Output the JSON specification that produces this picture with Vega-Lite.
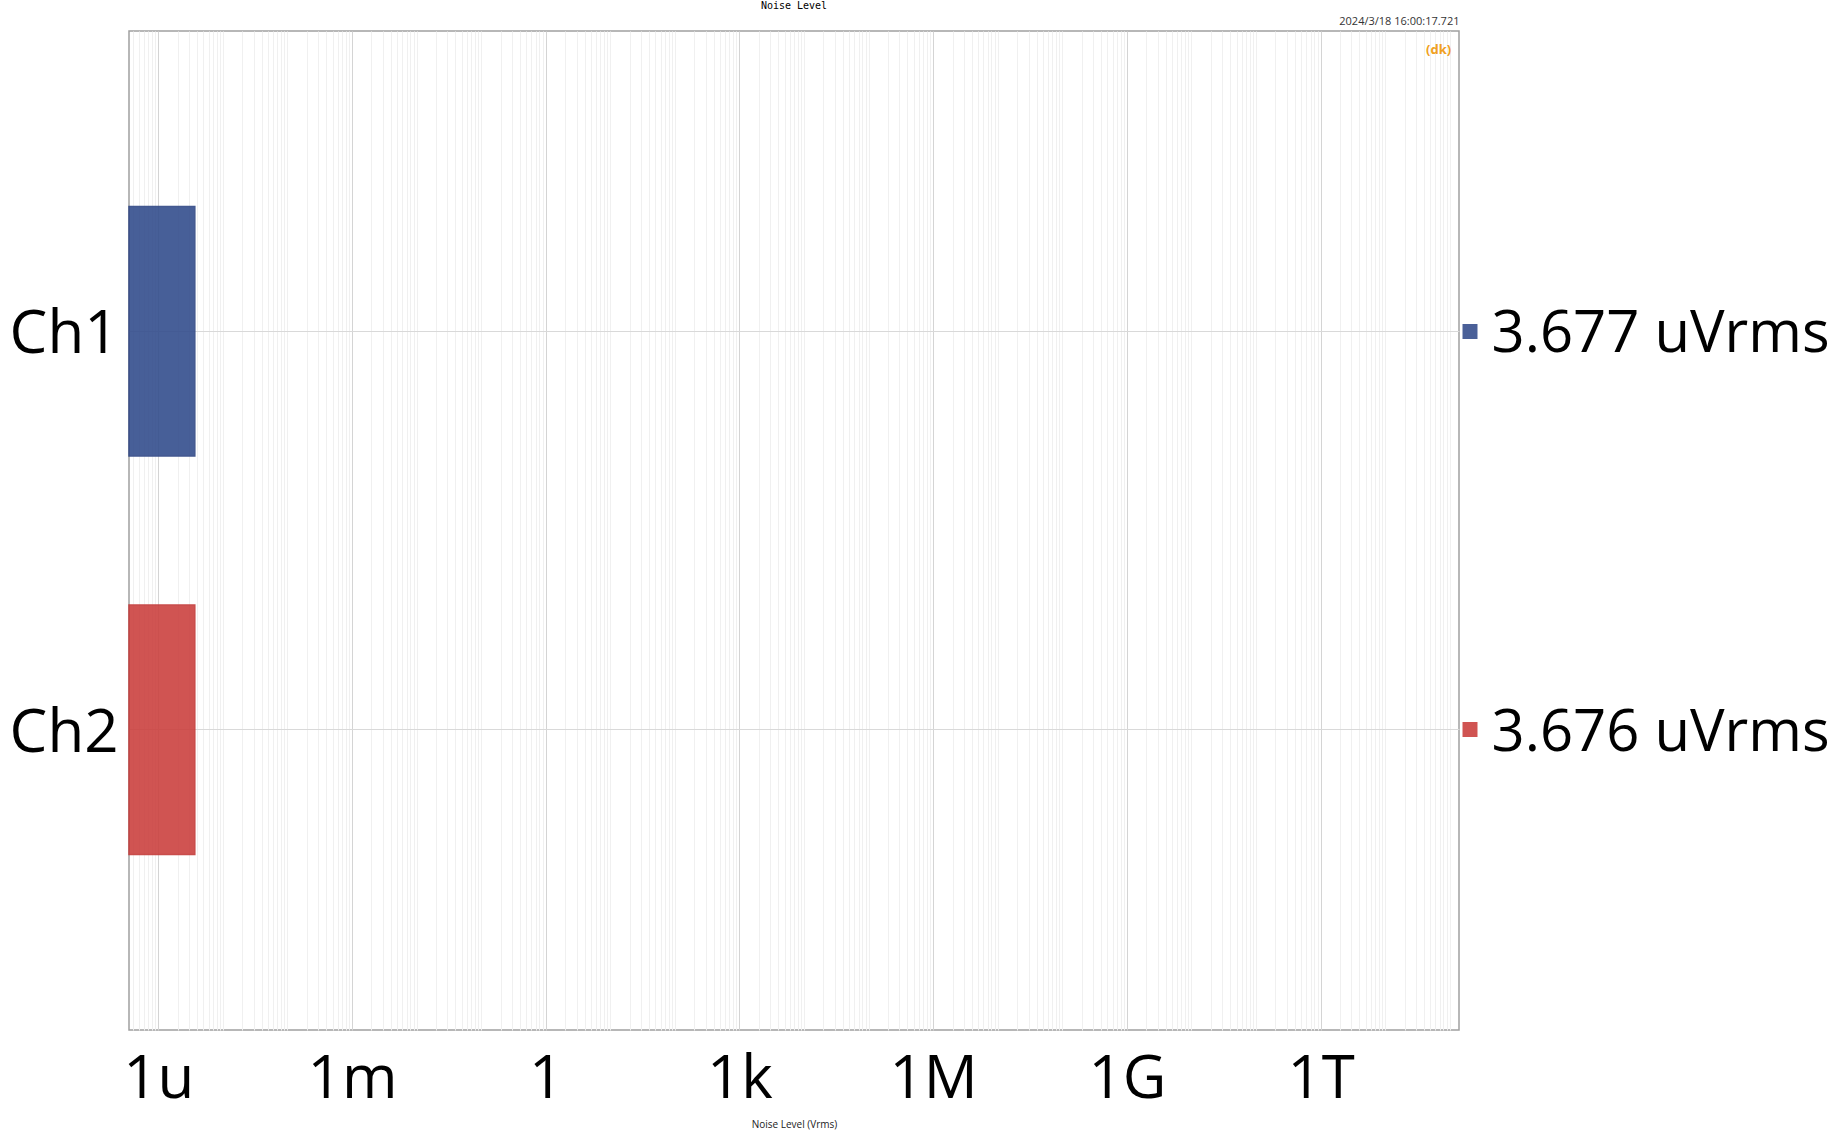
{
  "$schema": "https://vega.github.io/schema/vega-lite/v6.json",
  "width": 1330,
  "height": 999,
  "autosize": {"type": "none"},
  "padding": {"left": 129, "top": 31, "right": 376, "bottom": 103},
  "background": "white",
  "config": {
    "view": {"stroke": "#a0a0a0", "strokeWidth": 1.5},
    "axis": {"labelFont": "Open Sans", "titleFont": "Open Sans"}
  },
  "title": {"text": "Noise Level", "font": "DejaVu Sans Mono", "fontSize": 10, "fontWeight": "normal", "color": "#000", "anchor": "middle", "frame": "group", "offset": 4},
  "data": {"values": [
    {"channel": "Ch1", "value": 3.677e-6, "label": "3.677 uVrms"},
    {"channel": "Ch2", "value": 3.676e-6, "label": "3.676 uVrms"}
  ]},
  "layer": [
    {
      "mark": {"type": "bar", "opacity": 0.9, "strokeWidth": 1.5},
      "encoding": {
        "y": {"field": "channel", "type": "nominal", "scale": {"paddingInner": 0.374, "paddingOuter": 0.4407},
          "axis": {"orient": "left", "title": null, "labelFontSize": 60, "labelColor": "#000", "labelPadding": 11, "labelOffset": 4, "labelLimit": 0, "ticks": false, "tickSize": 0, "domain": false, "grid": true, "gridColor": "#d9d9d9", "gridWidth": 1}},
        "x": {"field": "value", "type": "quantitative", "scale": {"type": "log", "domain": [3.517e-7, 1.393e14], "nice": false},
          "axis": {"orient": "bottom",
            "values": [4e-7,5e-7,6e-7,7e-7,8e-7,9e-7,
              1e-6,2e-6,3e-6,4e-6,5e-6,6e-6,7e-6,8e-6,9e-6,
              1e-5,2e-5,3e-5,4e-5,5e-5,6e-5,7e-5,8e-5,9e-5,
              1e-4,2e-4,3e-4,4e-4,5e-4,6e-4,7e-4,8e-4,9e-4,
              1e-3,2e-3,3e-3,4e-3,5e-3,6e-3,7e-3,8e-3,9e-3,
              1e-2,2e-2,3e-2,4e-2,5e-2,6e-2,7e-2,8e-2,9e-2,
              1e-1,2e-1,3e-1,4e-1,5e-1,6e-1,7e-1,8e-1,9e-1,
              1,2,3,4,5,6,7,8,9,
              10,20,30,40,50,60,70,80,90,
              100,200,300,400,500,600,700,800,900,
              1e3,2e3,3e3,4e3,5e3,6e3,7e3,8e3,9e3,
              1e4,2e4,3e4,4e4,5e4,6e4,7e4,8e4,9e4,
              1e5,2e5,3e5,4e5,5e5,6e5,7e5,8e5,9e5,
              1e6,2e6,3e6,4e6,5e6,6e6,7e6,8e6,9e6,
              1e7,2e7,3e7,4e7,5e7,6e7,7e7,8e7,9e7,
              1e8,2e8,3e8,4e8,5e8,6e8,7e8,8e8,9e8,
              1e9,2e9,3e9,4e9,5e9,6e9,7e9,8e9,9e9,
              1e10,2e10,3e10,4e10,5e10,6e10,7e10,8e10,9e10,
              1e11,2e11,3e11,4e11,5e11,6e11,7e11,8e11,9e11,
              1e12,2e12,3e12,4e12,5e12,6e12,7e12,8e12,9e12,
              1e13,2e13,3e13,4e13,5e13,6e13,7e13,8e13,9e13,
              1e14],
            "labelExpr": "datum.value == 1e-6 ? '1u' : datum.value == 1e-3 ? '1m' : datum.value == 1 ? '1' : datum.value == 1e3 ? '1k' : datum.value == 1e6 ? '1M' : datum.value == 1e9 ? '1G' : datum.value == 1e12 ? '1T' : ''",
            "labelFontSize": 60, "labelColor": "#000", "labelPadding": 20, "labelOverlap": false, "labelFlush": false,
            "ticks": false, "tickSize": 0, "domain": false,
            "grid": true,
            "gridColor": {"condition": {"test": "indexof([1e-6,1e-3,1,1e3,1e6,1e9,1e12], datum.value) >= 0", "value": "#d4d4d4"}, "value": "#f0f0f0"},
            "gridWidth": 1,
            "title": "Noise Level (Vrms)", "titleFontSize": 10, "titleFontWeight": "normal", "titleColor": "#222", "titlePadding": 10}},
        "x2": {"datum": 3.517e-7},
        "color": {"field": "channel", "type": "nominal", "scale": {"range": ["#344e8d", "#cb4240"]}, "legend": null},
        "stroke": {"field": "channel", "type": "nominal", "scale": {"range": ["#2f4785", "#c43a38"]}, "legend": null}
      }
    },
    {
      "mark": {"type": "bar", "opacity": 0},
      "encoding": {
        "y": {"field": "label", "type": "nominal", "sort": ["3.677 uVrms", "3.676 uVrms"], "scale": {"paddingInner": 0.374, "paddingOuter": 0.4407},
          "axis": {"orient": "right", "title": null, "labelFontSize": 58, "labelColor": "#000", "labelPadding": 14, "labelOffset": 4, "labelLimit": 0, "offset": 3,
            "domain": false, "grid": false, "ticks": true, "tickSize": 15, "tickWidth": 15,
            "tickColor": {"condition": {"test": "datum.value == '3.677 uVrms'", "value": "#4a6098"}, "value": "#d05452"}}},
        "x": {"field": "value", "type": "quantitative",
          "axis": {"orient": "top", "labels": false, "ticks": false, "domain": false, "grid": false,
            "title": "2024/3/18 16:00:17.721", "titleAnchor": "end", "titleFontSize": 11, "titleFontWeight": "normal", "titleColor": "#333", "titlePadding": 5}}
      }
    },
    {
      "mark": {"type": "bar", "opacity": 0},
      "encoding": {
        "y": {"field": "channel", "type": "nominal", "axis": null},
        "x": {"field": "value", "type": "quantitative",
          "axis": {"orient": "top", "values": [6.6e13], "labelExpr": "'(dk)'", "labelFontSize": 13, "labelFontWeight": "bold", "labelColor": "#f0a020", "labelPadding": -18, "labelBaseline": "middle",
            "ticks": false, "tickSize": 0, "domain": false, "grid": false, "title": null}}
      }
    }
  ],
  "resolve": {"scale": {"y": "independent"}, "axis": {"x": "independent", "y": "independent"}}
}
